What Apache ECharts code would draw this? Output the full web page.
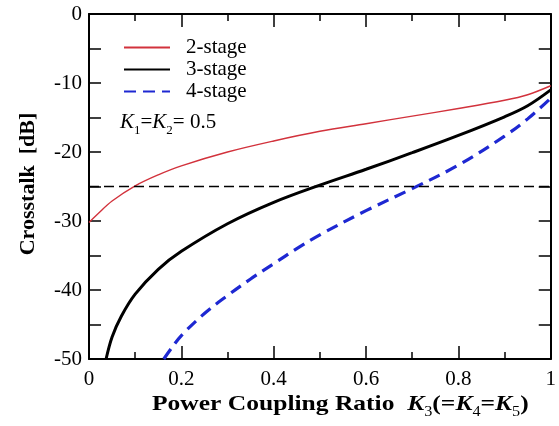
<!DOCTYPE html>
<html>
<head>
<meta charset="utf-8">
<script src="https://cdn.jsdelivr.net/npm/echarts@6/dist/echarts.min.js"></script>
<style>html,body{margin:0;padding:0;background:#fff}#c{width:559px;height:426px}</style>
</head>
<body>
<div id="c"></div>
<script>
const seriesNames = ['2-stage', '3-stage', '4-stage'];
const xRed = [0, 0.02, 0.05, 0.1, 0.15, 0.2, 0.3, 0.4, 0.5, 0.6, 0.7, 0.8, 0.9, 0.95, 1.0];
const yRed = [-30.2, -28.9, -27.1, -24.9, -23.3, -22.0, -20.0, -18.4, -17.0, -15.9, -14.8, -13.7, -12.5, -11.7, -10.4];
const xBlack = [0.037, 0.05, 0.07, 0.1, 0.15, 0.2, 0.3, 0.4, 0.5, 0.6, 0.7, 0.8, 0.9, 0.95, 1.0];
const yBlack = [-50, -46.8, -43.8, -40.6, -37.0, -34.4, -30.4, -27.3, -24.8, -22.5, -20.1, -17.6, -14.9, -13.3, -11.0];
const xBlue = [0.162, 0.18, 0.2, 0.25, 0.3, 0.35, 0.4, 0.45, 0.5, 0.6, 0.7, 0.8, 0.9, 0.95, 1.0];
const yBlue = [-50, -48.3, -46.6, -43.4, -40.8, -38.4, -36.2, -34.0, -32.0, -28.5, -25.3, -21.9, -17.7, -15.2, -12.2];
const refLevel = -25;
const xTicks = [0, 0.2, 0.4, 0.6, 0.8, 1];
const yTicks = [0, -10, -20, -30, -40, -50];

const zip = (xs, ys) => xs.map((x, i) => [x, ys[i]]);
const FONT = "'Liberation Serif', 'Times New Roman', serif";

const chart = echarts.init(document.getElementById('c'));
const axisLine = { show: true, onZero: false, lineStyle: { color: '#000', width: 2 } };
const xLabelFmt = v => String(v);

chart.setOption({
  animation: false,
  backgroundColor: '#fff',
  grid: { left: 89, right: 2, top: 14, bottom: 67, containLabel: false },
  legend: {
    left: 118, top: 32, orient: 'vertical',
    itemWidth: 46, itemHeight: 14, itemGap: 1,
    data: seriesNames,
    itemStyle: { opacity: 0 },
    textStyle: { fontFamily: FONT, fontSize: 21, color: '#000', padding: [0, 0, 0, 11] }
  },
  xAxis: [{
    type: 'value', min: xTicks[0], max: xTicks[xTicks.length - 1], interval: 0.2,
    position: 'bottom', axisLine,
    axisTick: { inside: true, length: 13, lineStyle: { width: 1.5, color: '#000' } },
    minorTick: { show: true, splitNumber: 2, length: 7, lineStyle: { width: 1.5, color: '#000' } },
    splitLine: { show: false },
    axisLabel: { fontFamily: FONT, fontSize: 21, color: '#000', margin: 10, formatter: xLabelFmt }
  }, {
    type: 'value', min: xTicks[0], max: xTicks[xTicks.length - 1], interval: 0.2,
    position: 'top', axisLine,
    axisTick: { inside: true, length: 13, lineStyle: { width: 1.5, color: '#000' } },
    minorTick: { show: true, splitNumber: 2, length: 7, lineStyle: { width: 1.5, color: '#000' } },
    splitLine: { show: false }, axisLabel: { show: false }
  }],
  yAxis: [{
    type: 'value', min: yTicks[yTicks.length - 1], max: yTicks[0], interval: 10, position: 'left', axisLine,
    axisTick: { inside: true, length: 12, lineStyle: { width: 1.5, color: '#000' } },
    minorTick: { show: true, splitNumber: 2, length: 12, lineStyle: { width: 1.5, color: '#000' } },
    splitLine: { show: false },
    axisLabel: { fontFamily: FONT, fontSize: 21, color: '#000', margin: 7 }
  }, {
    type: 'value', min: yTicks[yTicks.length - 1], max: yTicks[0], interval: 10, position: 'right', axisLine,
    axisTick: { inside: true, length: 12, lineStyle: { width: 1.5, color: '#000' } },
    minorTick: { show: true, splitNumber: 2, length: 12, lineStyle: { width: 1.5, color: '#000' } },
    splitLine: { show: false }, axisLabel: { show: false }
  }],
  series: [{
    name: seriesNames[0], type: 'line', showSymbol: false, symbol: 'none', smooth: 0.35,
    data: zip(xRed, yRed), color: '#d2323c',
    lineStyle: { color: '#d2323c', width: 1.4 },
    markLine: {
      silent: true, symbol: 'none', label: { show: false },
      lineStyle: { color: '#000', width: 1.4, type: [10, 5] },
      data: [{ yAxis: refLevel }]
    }
  }, {
    name: seriesNames[1], type: 'line', showSymbol: false, symbol: 'none', smooth: 0.35,
    data: zip(xBlack, yBlack), color: '#000',
    lineStyle: { color: '#000', width: 3 }
  }, {
    name: seriesNames[2], type: 'line', showSymbol: false, symbol: 'none', smooth: 0.35,
    data: zip(xBlue, yBlue), color: '#1e28d2',
    lineStyle: { color: '#1e28d2', width: 3.2, type: [12, 7] }
  }],
  graphic: [{
    type: 'text', x: 120, y: 109,
    style: {
      text: '{k|K}{s|1}{n|=}{k|K}{s|2}{n|= 0.5}',
      rich: {
        k: { fontFamily: FONT, fontStyle: 'italic', fontSize: 21, fill: '#000', verticalAlign: 'bottom', lineHeight: 24 },
        n: { fontFamily: FONT, fontSize: 21, fill: '#000', verticalAlign: 'bottom', lineHeight: 24 },
        s: { fontFamily: FONT, fontSize: 13, fill: '#000', verticalAlign: 'bottom', lineHeight: 24, padding: [0, 0, -4, 0] }
      }
    }
  }, {
    type: 'text', x: 152, y: 389, scaleX: 1.16,
    style: {
      text: '{b|Power Coupling Ratio  }{k|K}{s|3}{b|(=}{k|K}{s|4}{b|=}{k|K}{s|5}{b|)}',
      rich: {
        b: { fontFamily: FONT, fontWeight: 'bold', fontSize: 22, fill: '#000', verticalAlign: 'bottom', lineHeight: 26 },
        k: { fontFamily: FONT, fontWeight: 'bold', fontStyle: 'italic', fontSize: 22, fill: '#000', verticalAlign: 'bottom', lineHeight: 26 },
        s: { fontFamily: FONT, fontSize: 14, fill: '#000', verticalAlign: 'bottom', lineHeight: 26, padding: [0, 0, -4, 0] }
      }
    }
  }, {
    type: 'text', x: 28, y: 184, rotation: Math.PI / 2,
    style: {
      text: 'Crosstalk  [dB]', fontFamily: FONT, fontWeight: 'bold', fontSize: 22, fill: '#000',
      align: 'center', verticalAlign: 'middle'
    }
  }]
});
</script>
</body>
</html>
